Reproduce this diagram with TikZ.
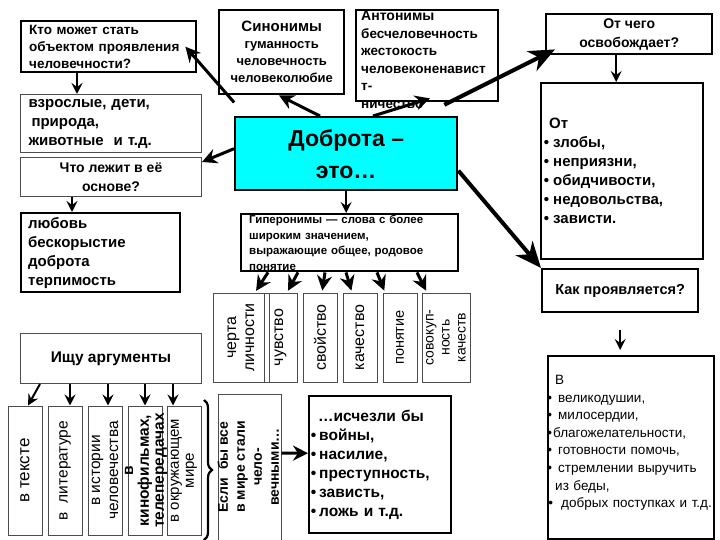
\documentclass[tikz,border=0pt]{standalone}
\usepackage{fontspec}
\setmainfont{Liberation Sans}
\usepackage{tikz}
\usetikzlibrary{arrows.meta, decorations.pathreplacing}
\tikzstyle{thickBox} = [rectangle, draw=black, line width=2.4pt, inner sep=0pt, anchor=north west]
\tikzstyle{thinBox} = [rectangle, draw=black!70, line width=1pt, inner sep=0pt, anchor=north west]
\tikzstyle{vertBox} = [rectangle, draw=black!70, line width=1pt, inner sep=0pt, rotate=90, align=center]
\tikzstyle{bigArrow} = [line width=4pt, -{Stealth[length=26pt, width=22pt, inset=8pt]}]
\tikzstyle{midArrow} = [line width=3pt, -{Stealth[length=15pt, width=15pt, inset=5pt]}]
\tikzstyle{arrow} = [line width=2pt, -{Stealth[length=11pt, width=11pt, inset=4pt]}]
\definecolor{kindCyan}{RGB}{0,255,255}
\newcommand{\dotItem}[1]{\leavevmode\llap{•\hspace{#1}}}

\begin{document}
\begin{tikzpicture}[x=1pt, y=-1pt]
    \useasboundingbox (0,0) rectangle (720,540);
    % Main node
    \node (dobrota) [thickBox, fill=kindCyan, minimum width=222pt, minimum height=73pt, align=center, font=\fontsize{23}{32}\selectfont\bfseries] at (234,116) {Доброта –\\это…};
    % Left column
    \node (kto) [thickBox, minimum height=51pt, text width=159pt, inner xsep=8pt, align=left, font=\fontsize{13.5}{17}\selectfont\bfseries] at (20,20) {Кто может стать\\объектом проявления\\человечности?};
    \node (vzr) [thinBox, minimum height=58pt, text width=165pt, inner xsep=8pt, align=left, font=\fontsize{15}{19}\selectfont\bfseries] at (20,94) {взрослые, дети,\\\hspace*{3pt}природа,\\животные\ \ и т.д.};
    \node (chto) [thinBox, minimum width=181pt, minimum height=39pt, align=center, font=\fontsize{14}{19}\selectfont\bfseries] at (20,157) {Что лежит в её\\основе?};
    \node (lubov) [thickBox, minimum height=79pt, text width=145pt, inner xsep=7pt, align=left, font=\fontsize{15}{19}\selectfont\bfseries] at (20,212) {любовь\\бескорыстие\\доброта\\терпимость};
    % Synonyms, antonyms
    \node (sinon) [thickBox, minimum width=125pt, minimum height=84pt, align=center, font=\fontsize{13}{17}\selectfont\bfseries] at (218,9) {{\fontsize{15}{17}\selectfont Синонимы}\\гуманность\\человечность\\человеколюбие};
    \node (anto) [thickBox, minimum width=142pt, minimum height=91pt] at (355,9) {};
    \node (antoText) [anchor=north west, inner sep=0pt, text width=140pt, align=left, font=\fontsize{13.5}{17.5}\selectfont\bfseries] at (361,11) {{\fontsize{14}{17.5}\selectfont Антонимы}\\бесчеловечность\\жестокость\\человеконенавист\\т-\\ничество};
    % Right column
    \node (otchego) [thickBox, minimum width=166pt, minimum height=40pt, align=center, font=\fontsize{14}{19}\selectfont\bfseries] at (545,13) {От чего\\освобождает?};
    \node (ot) [thickBox, minimum height=176pt, text width=138pt, inner xsep=12pt, align=left, font=\fontsize{15}{19}\selectfont\bfseries] at (540,82) {\hspace*{-4pt}От\\\dotItem{4pt}злобы,\\\dotItem{4pt}неприязни,\\\dotItem{4pt}обидчивости,\\\dotItem{4pt}недовольства,\\\dotItem{4pt}зависти.};
    \node (kak) [thickBox, minimum width=156pt, minimum height=43pt, align=center, font=\fontsize{14.5}{19}\selectfont\bfseries] at (541,268) {Как проявляется?};
    \node (vBox) [thickBox, line width=2pt, minimum width=166pt, minimum height=183pt] at (547,355) {};
    \node (vText) [anchor=north west, inner sep=0pt, text width=160pt, align=left, font=\fontsize{13.5}{17.6}\selectfont] at (558,375) {\hspace*{-3pt}В\\\dotItem{6pt}великодушии,\\\dotItem{6pt}милосердии,\\\hspace*{-5pt}\dotItem{1pt}благожелательности,\\\dotItem{6pt}готовности помочь,\\\dotItem{6pt}стремлении выручить\\\hspace*{-3pt}из беды,\\\hspace*{3pt}\dotItem{8pt}добрых поступках и т.д.};
    % Hyperonyms
    \node (hyper) [thickBox, minimum height=57pt, text width=201pt, inner xsep=8pt, align=left, font=\fontsize{11.5}{15.5}\selectfont\bfseries] at (240,213) {Гиперонимы — слова с более\\широким значением,\\выражающие общее, родовое\\понятие};
    \node (cherta) [vertBox, minimum width=89pt, minimum height=56pt, font=\fontsize{16}{18}\selectfont] at (241,337.5) {черта\\личности};
    \node (chuvstvo) [vertBox, minimum width=89pt, minimum height=33pt, font=\fontsize{16}{18}\selectfont] at (280.5,337.5) {чувство};
    \node (svoistvo) [vertBox, minimum width=89pt, minimum height=34pt, font=\fontsize{16}{18}\selectfont] at (320,337.5) {свойство};
    \node (kachestvo) [vertBox, minimum width=89pt, minimum height=34pt, font=\fontsize{16}{18}\selectfont] at (360,337.5) {качество};
    \node (ponyatie) [vertBox, minimum width=89pt, minimum height=34pt, font=\fontsize{14.5}{18}\selectfont] at (400,337.5) {понятие};
    \node (sovokup) [vertBox, minimum width=89pt, minimum height=48pt, font=\fontsize{14}{16}\selectfont] at (446,337.5) {совокуп-\\ность\\качеств};
    % Arguments
    \node (argBox) [thinBox, minimum width=181pt, minimum height=50pt, align=center, font=\fontsize{15.5}{17}\selectfont\bfseries] at (20,333) {Ищу аргументы};
    \node (tekst) [vertBox, minimum width=129pt, minimum height=34pt, font=\fontsize{17}{18}\selectfont] at (25,470.5) {в тексте};
    \node (literatura) [vertBox, minimum width=129pt, minimum height=34pt, font=\fontsize{15.5}{18}\selectfont] at (65,470.5) {в\ \ литературе};
    \node (istoria) [vertBox, minimum width=129pt, minimum height=34pt, font=\fontsize{15.5}{18}\selectfont] at (105,470.5) {в истории\\человечества};
    \node (kino) [vertBox, minimum width=129pt, minimum height=34pt, font=\fontsize{15.5}{15}\selectfont\bfseries] at (145,470.5) {\raisebox{-4pt}[0pt][0pt]{\begin{tabular}{@{}c@{}}в\\кинофильмах,\\телепередачах\end{tabular}}};
    \node (mir) [vertBox, minimum width=129pt, minimum height=34pt, font=\fontsize{15}{15}\selectfont] at (184,470.5) {в окружающем\\мире};
    \draw [decorate, decoration={brace, amplitude=8pt}, line width=2.2pt] (204,400) -- (204,540);
    % If everybody...
    \node (esli) [vertBox, minimum width=146pt, minimum height=63pt, font=\fontsize{14}{17}\selectfont\bfseries] at (249.5,467) {\raisebox{-4pt}[0pt][0pt]{\begin{tabular}{@{}c@{}}Если\ \ бы все\\в мире стали\\чело-\\вечными…\end{tabular}}};
    \node (ischezli) [thickBox, minimum height=137pt, text width=122pt, inner xsep=10pt, align=left, font=\fontsize{15.5}{19}\selectfont\bfseries] at (308,395) {\hspace*{-1pt}…исчезли бы\\\dotItem{3pt}войны,\\\dotItem{3pt}насилие,\\\dotItem{3pt}преступность,\\\dotItem{3pt}зависть,\\\dotItem{3pt}ложь и т.д.};

    \draw [midArrow, shorten <=18pt] ([xshift=12pt]dobrota.north west) -- ([xshift=-12pt]kto.east);
    \draw [midArrow] ([xshift=86pt]dobrota.north west) -- ([xshift=61pt]sinon.south west);
    \draw [midArrow] ([xshift=139pt]dobrota.north west) -- ([xshift=75pt, yshift=4pt]anto.south west);
    \draw [bigArrow, shorten <=25pt] ([xshift=188pt]dobrota.north west) -- ([xshift=10pt, yshift=6pt]otchego.south west);
    \draw [midArrow] ([yshift=5pt]dobrota.west) -- ([yshift=-5pt]chto.north east);
    \draw [arrow] (dobrota.south) -- (dobrota.south |- hyper.north);
    \draw [bigArrow] ([yshift=-17pt]dobrota.east) -- (kak.north west);
    %
    \draw [arrow] ([xshift=57pt]kto.south west) -- ([xshift=57pt]vzr.north west);
    \draw [arrow] ([xshift=52pt]chto.south west) -- ([xshift=52pt]lubov.north west);
    \draw [arrow] ([xshift=-13pt]otchego.south) -- ([xshift=-6pt]ot.north);
    \draw [arrow, shorten <=17pt, shorten >=5pt] (kak.south) -- (kak.south |- vBox.north);
    %
    \foreach \s/\b/\e in {28/cherta/14, 58/chuvstvo/6.5, 85/svoistvo/2, 106/kachestvo/-8, 137/ponyatie/-15, 177/sovokup/-19}
        \draw [midArrow, shorten >=2pt] ([xshift=\s pt]hyper.south west) -- ([xshift=\e pt]\b.east);
    \foreach \s/\b/\e in {20/tekst/3, 50/literatura/5, 88/istoria/3, 125/kino/0, 153/mir/-11}
        \draw [arrow] ([xshift=\s pt]argBox.south west) -- ([xshift=\e pt]\b.east);
    %
    \draw [midArrow] ([yshift=14pt]esli.south) -- ([yshift=11.5pt]ischezli.west);
\end{tikzpicture}
\end{document}
